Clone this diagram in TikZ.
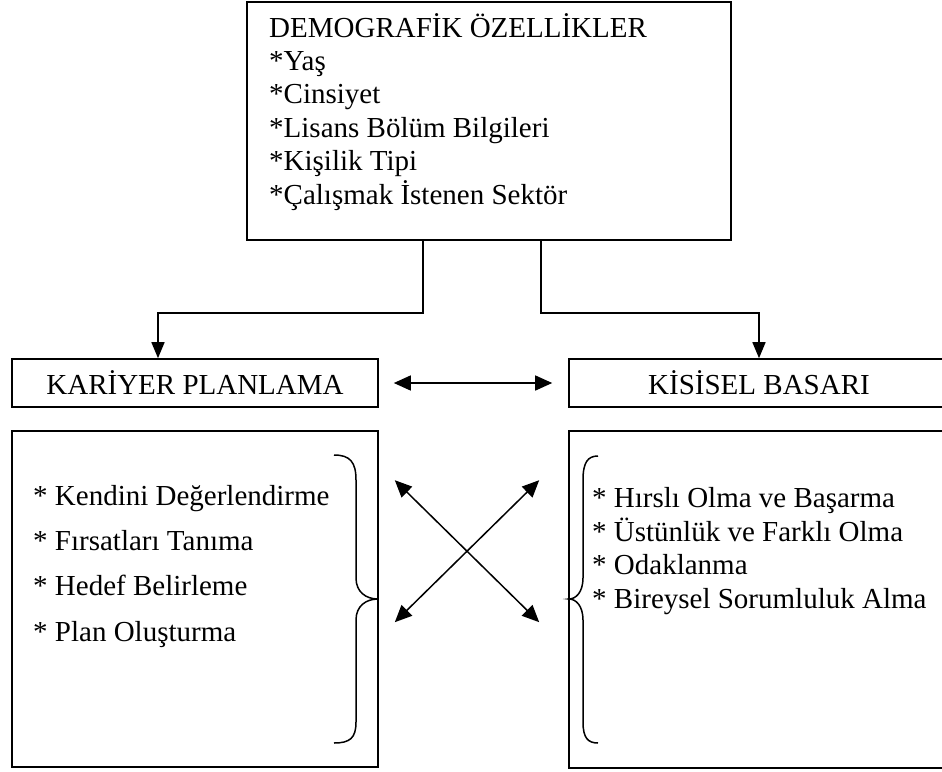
\documentclass[tikz,border=0pt]{standalone}
\usepackage{fontspec}
\setmainfont{Liberation Serif}
\usetikzlibrary{arrows.meta}

\tikzset{
  box/.style={draw, line width=1.6pt, inner sep=0pt},
  listtext/.style={anchor=base west, align=left, inner sep=0pt},
  arr/.style={line width=1.5pt, -{Triangle[length=16pt,width=13pt]}},
  dblarr/.style={line width=1.5pt, {Triangle[length=17pt,width=15pt]}-{Triangle[length=17pt,width=15pt]}},
  brace/.style={line width=1.5pt}
}

\begin{document}
\begin{tikzpicture}[x=1pt, y=-1pt, font=\fontsize{29}{33.4}\selectfont]
        \useasboundingbox (0,0) rectangle (942,771);

        % Demographic box (text placed at the baseline of its last line)
        \node[box, minimum width=484pt, minimum height=238pt] (demo) at (489,121) {};
        \node[listtext] (demotext) at (269,204)
            {DEMOGRAFİK ÖZELLİKLER\\*Yaş\\*Cinsiyet\\*Lisans Bölüm Bilgileri\\*Kişilik Tipi\\*Çalışmak İstenen Sektör};

        % Title boxes
        \node[box, minimum width=366pt, minimum height=48pt] (kariyer) at (195,383) {KARİYER PLANLAMA};
        \node[box, minimum width=380pt, minimum height=48pt] (basari) at (759,383) {KİSİSEL BASARI};

        % List boxes
        \node[box, minimum width=366pt, minimum height=336pt] (planbox) at (195,599) {};
        \node[box, minimum width=380pt, minimum height=337pt] (basaribox) at (759,599.5) {};
        \node[listtext, font=\fontsize{29}{45.3}\selectfont] (planlist) at (33,641)
            {* Kendini Değerlendirme\\* Fırsatları Tanıma\\* Hedef Belirleme\\* Plan Oluşturma};
        \node[listtext] (basarilist) at (592,608)
            {* Hırslı Olma ve Başarma\\* Üstünlük ve Farklı Olma\\* Odaklanma\\* Bireysel Sorumluluk Alma};

        % Connectors from the top box
        \draw[arr] ([xshift=-66]demo.south) -- ++(0,72) -| ([xshift=-37]kariyer.north);
        \draw[arr] ([xshift=52]demo.south) -- ++(0,72) -| (basari.north);
        \draw[dblarr] ([xshift=15]kariyer.east) -- ([xshift=-16]basari.west);

        % Cross arrows
        \draw[dblarr] ([shift={(16,50)}]planbox.north east) -- ([shift={(-29,192)}]basaribox.north west);
        \draw[dblarr] ([shift={(-29,50)}]basaribox.north west) -- ([shift={(16,192)}]planbox.north east);

        % Braces
        \draw[brace] (334,455) .. controls (350,455) and (356,462) .. (356,480) -- (356,578)
            .. controls (356,592) and (366,599) .. (378,599)
            .. controls (366,599) and (356,606) .. (356,620) -- (356,722)
            .. controls (356,738) and (350,743) .. (334,743);
        \draw[brace] (598,456) .. controls (588,456) and (583,462) .. (583,480) -- (583,578)
            .. controls (583,592) and (576,599) .. (569,599)
            .. controls (576,599) and (583,606) .. (583,620) -- (583,722)
            .. controls (583,738) and (588,743) .. (598,743);
    \end{tikzpicture}
\end{document}
